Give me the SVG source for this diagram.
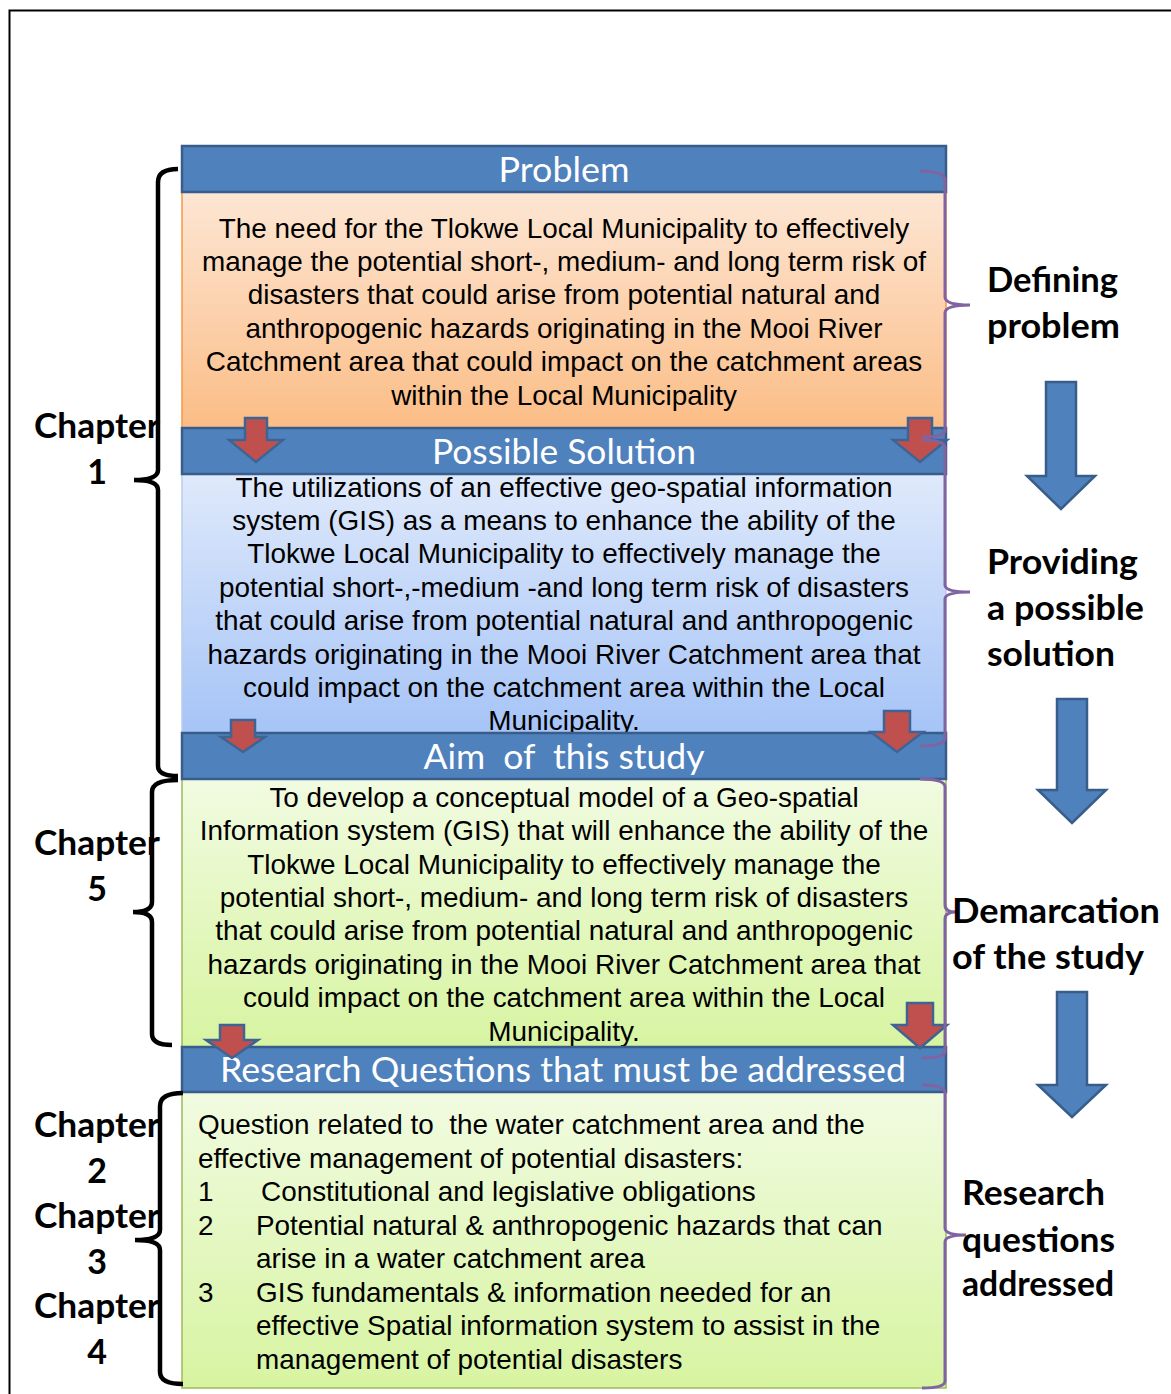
<svg xmlns="http://www.w3.org/2000/svg" width="1171" height="1394" viewBox="0 0 1171 1394">
<style>
.hdr{fill:#4f81bd;stroke:#385d8a;stroke-width:2.5}
.ht{fill:#fff;font-family:Lato,"Open Sans",sans-serif;font-size:34px;text-anchor:middle;white-space:pre}
.bt{fill:#000;font-family:"Liberation Sans",Arial,sans-serif;font-size:27.9px;text-anchor:middle}
.lt{fill:#000;font-family:"Liberation Sans",Arial,sans-serif;font-size:27.9px;white-space:pre}
.lab{fill:#000;font-family:Lato,"Open Sans",sans-serif;font-weight:bold;font-size:34px}
.ch{fill:#000;font-family:Lato,"Open Sans",sans-serif;font-weight:bold;font-size:34px;text-anchor:middle}
.red{fill:#c0504d;stroke:#3e6496;stroke-width:2.5;stroke-linejoin:miter}
.big{fill:#4f81bd;stroke:#385d8a;stroke-width:2.5}
.pb{fill:none;stroke:#8064a2;stroke-width:3}
.kb{fill:none;stroke:#000;stroke-width:4.5}
</style>
<defs>
<linearGradient id="gOr" x1="0" y1="0" x2="0" y2="1"><stop offset="0" stop-color="#fde6d4"/><stop offset="1" stop-color="#fbbd86"/></linearGradient>
<linearGradient id="gBl" x1="0" y1="0" x2="0" y2="1"><stop offset="0" stop-color="#dfe9fb"/><stop offset="1" stop-color="#a6c4f7"/></linearGradient>
<linearGradient id="gGr" x1="0" y1="0" x2="0" y2="1"><stop offset="0" stop-color="#f1fbe1"/><stop offset="1" stop-color="#d7f4a1"/></linearGradient>
</defs>
<rect x="0" y="0" width="1171" height="1394" fill="#fff"/>
<path d="M9.5,1394 L9.5,10.5 L1171,10.5" fill="none" stroke="#000" stroke-width="2"/>

<g id="problem">
<rect x="182" y="192" width="764" height="236" fill="url(#gOr)" stroke="#f79646" stroke-width="1.5"/>
<text class="bt" x="564" y="238">The need for the Tlokwe Local Municipality to effectively</text>
<text class="bt" x="564" y="271">manage the potential short-, medium- and long term risk of</text>
<text class="bt" x="564" y="304">disasters that could arise from potential natural and</text>
<text class="bt" x="564" y="338">anthropogenic hazards originating in the Mooi River</text>
<text class="bt" x="564" y="371">Catchment area that could impact on the catchment areas</text>
<text class="bt" x="564" y="405">within the Local Municipality</text>
</g>
<g id="solution">
<rect x="182" y="474" width="764" height="259" fill="url(#gBl)" stroke="#b9cdea" stroke-width="1.5"/>
<text class="bt" x="564" y="497">The utilizations of an effective geo-spatial information</text>
<text class="bt" x="564" y="530">system (GIS) as a means to enhance the ability of the</text>
<text class="bt" x="564" y="563">Tlokwe Local Municipality to effectively manage the</text>
<text class="bt" x="564" y="597">potential short-,-medium -and long term risk of disasters</text>
<text class="bt" x="564" y="630">that could arise from potential natural and anthropogenic</text>
<text class="bt" x="564" y="664">hazards originating in the Mooi River Catchment area that</text>
<text class="bt" x="564" y="697">could impact on the catchment area within the Local</text>
<text class="bt" x="564" y="730">Municipality.</text>
</g>
<g id="aim">
<rect x="182" y="779" width="764" height="268" fill="url(#gGr)" stroke="#9bbb59" stroke-width="1.5"/>
<text class="bt" x="564" y="807">To develop a conceptual model of a Geo-spatial</text>
<text class="bt" x="564" y="840">Information system (GIS) that will enhance the ability of the</text>
<text class="bt" x="564" y="874">Tlokwe Local Municipality to effectively manage the</text>
<text class="bt" x="564" y="907">potential short-, medium- and long term risk of disasters</text>
<text class="bt" x="564" y="940">that could arise from potential natural and anthropogenic</text>
<text class="bt" x="564" y="974">hazards originating in the Mooi River Catchment area that</text>
<text class="bt" x="564" y="1007">could impact on the catchment area within the Local</text>
<text class="bt" x="564" y="1041">Municipality.</text>
</g>
<g id="questions">
<rect x="182" y="1092" width="764" height="296" fill="url(#gGr)" stroke="#9bbb59" stroke-width="1.5"/>
<text class="lt" x="198" y="1134">Question related to  the water catchment area and the</text>
<text class="lt" x="198" y="1168">effective management of potential disasters:</text>
<text class="lt" x="198" y="1201">1</text>
<text class="lt" x="261" y="1201">Constitutional and legislative obligations</text>
<text class="lt" x="198" y="1235">2</text>
<text class="lt" x="256" y="1235">Potential natural &amp; anthropogenic hazards that can</text>
<text class="lt" x="256" y="1268">arise in a water catchment area</text>
<text class="lt" x="198" y="1302">3</text>
<text class="lt" x="256" y="1302">GIS fundamentals &amp; information needed for an</text>
<text class="lt" x="256" y="1335">effective Spatial information system to assist in the</text>
<text class="lt" x="256" y="1369">management of potential disasters</text>
</g>

<g id="headers">
<g id="h-problem"><rect class="hdr" x="182" y="146" width="764" height="46"/><text class="ht" x="564" y="182" textLength="131" lengthAdjust="spacingAndGlyphs">Problem</text></g>
<g id="h-solution"><rect class="hdr" x="182" y="428" width="764" height="46"/><text class="ht" x="564" y="464" textLength="264" lengthAdjust="spacingAndGlyphs">Possible Solution</text></g>
<g id="h-aim"><rect class="hdr" x="182" y="733" width="764" height="46"/><text class="ht" x="564" y="769" textLength="281" lengthAdjust="spacingAndGlyphs">Aim  of  this study</text></g>
<g id="h-questions"><rect class="hdr" x="182" y="1047" width="764" height="45"/><text class="ht" x="563" y="1082" textLength="686" lengthAdjust="spacingAndGlyphs">Research Questions that must be addressed</text></g>
</g>

<g id="connectors">
<polygon class="red" points="245,418 267,418 267,440 283,440 256,462 229,440 245,440"/>
<polygon class="red" points="908,418 932,418 932,440 947,440 920,462 893,440 908,440"/>
<polygon class="red" points="231,720 255,720 255,737 265,737 243,752 221,737 231,737"/>
<polygon class="red" points="884,711 910,711 910,732 923,732 897,752 871,732 884,732"/>
<polygon class="red" points="220,1025 244,1025 244,1040 258,1040 232,1058 206,1040 220,1040"/>
<polygon class="red" points="907,1003 933,1003 933,1025 947,1025 920,1048 893,1025 907,1025"/>
<polygon class="big" points="1046,382 1076,382 1076,476 1095,476 1061,509 1027,476 1046,476"/>
<polygon class="big" points="1057,699 1087,699 1087,790 1106,790 1072,823 1038,790 1057,790"/>
<polygon class="big" points="1057,992 1087,992 1087,1085 1106,1085 1072,1117 1038,1085 1057,1085"/>
<path class="pb" d="M920,171 Q945,171 945,180 L945,297 Q945,305 970,305 Q945,305 945,313 L945,430 Q945,437 922,437"/>
<path class="pb" d="M922,440 Q945,440 945,448 L945,585 Q945,592 970,592 Q945,592 945,599 L945,738 Q945,746 920,746"/>
<path class="pb" d="M920,779 Q945,779 945,787 L945,905 Q945,912 956,912 Q945,912 945,919 L945,1051 Q945,1058 922,1058"/>
<path class="pb" d="M922,1085 Q945,1085 945,1093 L945,1228 Q945,1235 966,1235 Q945,1235 945,1242 L945,1381 Q945,1388 922,1388"/>
<path class="kb" d="M178,169 Q158,169 158,182 L158,470 Q158,480 134,480 Q158,480 158,490 L158,766 Q158,776 178,776"/>
<path class="kb" d="M178,780 Q152,780 152,792 L152,902 Q152,912 133,912 Q152,912 152,922 L152,1034 Q152,1045 172,1045"/>
<path class="kb" d="M183,1093 Q160,1093 160,1106 L160,1230 Q160,1240 135,1240 Q160,1240 160,1250 L160,1372 Q160,1384 183,1384"/>
</g>

<g id="labels">
<text class="ch" x="97" y="438" textLength="126" lengthAdjust="spacingAndGlyphs">Chapter</text>
<text class="ch" x="97" y="484">1</text>
<text class="ch" x="97" y="855" textLength="126" lengthAdjust="spacingAndGlyphs">Chapter</text>
<text class="ch" x="97" y="901">5</text>
<text class="ch" x="97" y="1137" textLength="126" lengthAdjust="spacingAndGlyphs">Chapter</text>
<text class="ch" x="97" y="1183">2</text>
<text class="ch" x="97" y="1228" textLength="126" lengthAdjust="spacingAndGlyphs">Chapter</text>
<text class="ch" x="97" y="1274">3</text>
<text class="ch" x="97" y="1318" textLength="126" lengthAdjust="spacingAndGlyphs">Chapter</text>
<text class="ch" x="97" y="1364">4</text>
<text class="lab" x="987" y="292" textLength="131" lengthAdjust="spacingAndGlyphs">Defining</text>
<text class="lab" x="987" y="338" textLength="133" lengthAdjust="spacingAndGlyphs">problem</text>
<text class="lab" x="987" y="574" textLength="151" lengthAdjust="spacingAndGlyphs">Providing</text>
<text class="lab" x="987" y="620" textLength="157" lengthAdjust="spacingAndGlyphs">a possible</text>
<text class="lab" x="987" y="666" textLength="128" lengthAdjust="spacingAndGlyphs">solution</text>
<text class="lab" x="952" y="923" textLength="208" lengthAdjust="spacingAndGlyphs">Demarcation</text>
<text class="lab" x="952" y="969" textLength="192" lengthAdjust="spacingAndGlyphs">of the study</text>
<text class="lab" x="962" y="1205" textLength="143" lengthAdjust="spacingAndGlyphs">Research</text>
<text class="lab" x="962" y="1252" textLength="153" lengthAdjust="spacingAndGlyphs">questions</text>
<text class="lab" x="962" y="1296" textLength="152" lengthAdjust="spacingAndGlyphs">addressed</text>
</g>
</svg>
